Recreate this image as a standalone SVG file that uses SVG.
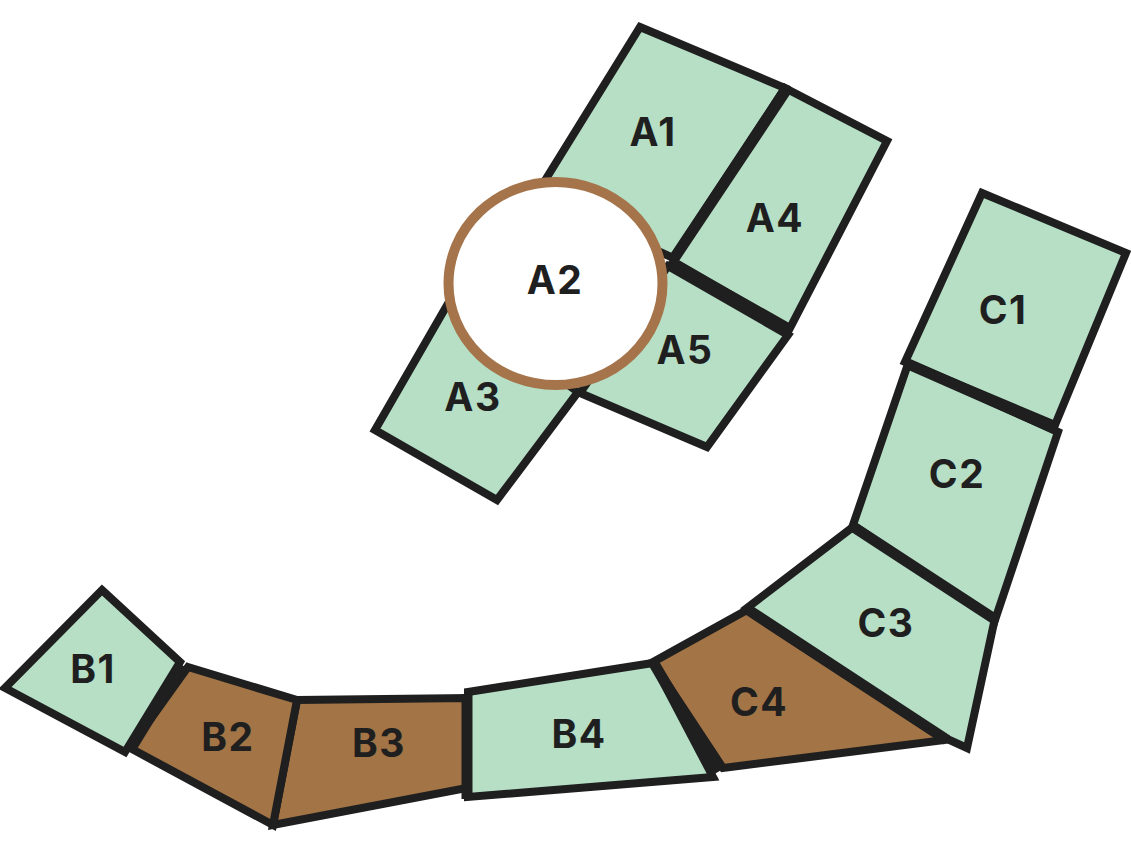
<svg xmlns="http://www.w3.org/2000/svg" width="1131" height="857" viewBox="0 0 1131 857">
<style>
.g{fill:#b6dfc6;stroke:#1f1f1f;stroke-width:8;stroke-linejoin:miter}
.b{fill:#a27446;stroke:#1f1f1f;stroke-width:8;stroke-linejoin:miter}
.sep{stroke:#1f1f1f;stroke-width:11;stroke-linecap:butt;fill:none}
.t{font-family:Inter,"Liberation Sans",sans-serif;font-weight:700;font-size:39px;letter-spacing:1.5px;fill:#1f1f1f;text-anchor:middle;dominant-baseline:central}
</style>
<rect width="1131" height="857" fill="#ffffff"/>
<g id="A3"><polygon class="g" points="375,430 497,500 578,392 450,300"/><text class="t" x="473" y="396">A3</text></g>
<g id="A1"><polygon class="g" points="640,27 785,88 673,258 536,195"/><text class="t" x="653" y="131">A1</text></g>
<g id="A4"><polygon class="g" points="785,88 887,141 790,328 673,262"/><text class="t" x="775" y="217">A4</text></g>
<g id="A5"><polygon class="g" points="668,266 788,335 707,447 580,393"/><text class="t" x="685" y="349">A5</text></g>
<g id="C1"><polygon class="g" points="982,193 1126,253 1055,425 905,362"/><text class="t" x="1003" y="309">C1</text></g>
<g id="C2"><polygon class="g" points="908,364 1058,432 995,620 853,525"/><text class="t" x="957" y="473">C2</text></g>
<g id="C3"><polygon class="g" points="853,527 995,618 967,748 945,738 747,608"/><text class="t" x="886" y="622">C3</text></g>
<g id="C4"><polygon class="b" points="653,662 747,610 945,740 723,768"/><text class="t" x="759" y="701">C4</text></g>
<g id="B4"><polygon class="g" points="468,692 653,663 713,777 468,797"/><text class="t" x="579" y="733">B4</text></g>
<g id="B3"><polygon class="b" points="297,700 467,698 467,788 273,825"/><text class="t" x="379" y="742">B3</text></g>
<g id="B2"><polygon class="b" points="188,667 297,700 273,825 130,748"/><text class="t" x="228" y="736">B2</text></g>
<g id="B1"><polygon class="g" points="102,590 180,662 125,752 5,688"/><text class="t" x="93" y="668">B1</text></g>
<g id="connectors">
<line class="sep" x1="787" y1="89" x2="673" y2="260"/>
<line class="sep" x1="673" y1="263" x2="790" y2="331"/>
<line class="sep" x1="906" y1="363" x2="1056" y2="429"/>
<line class="sep" x1="852" y1="526" x2="996" y2="620"/>
<line class="sep" x1="747" y1="609" x2="947" y2="740"/>
<line class="sep" x1="653" y1="662" x2="718" y2="772"/>
<line class="sep" x1="467" y1="694" x2="467" y2="799"/>
<line class="sep" x1="182" y1="665" x2="130" y2="750"/>
</g>
<g id="A2"><ellipse cx="555.5" cy="283.5" rx="107" ry="101.5" fill="#ffffff" stroke="#a5744a" stroke-width="10"/><text class="t" x="555" y="279">A2</text></g>
</svg>
